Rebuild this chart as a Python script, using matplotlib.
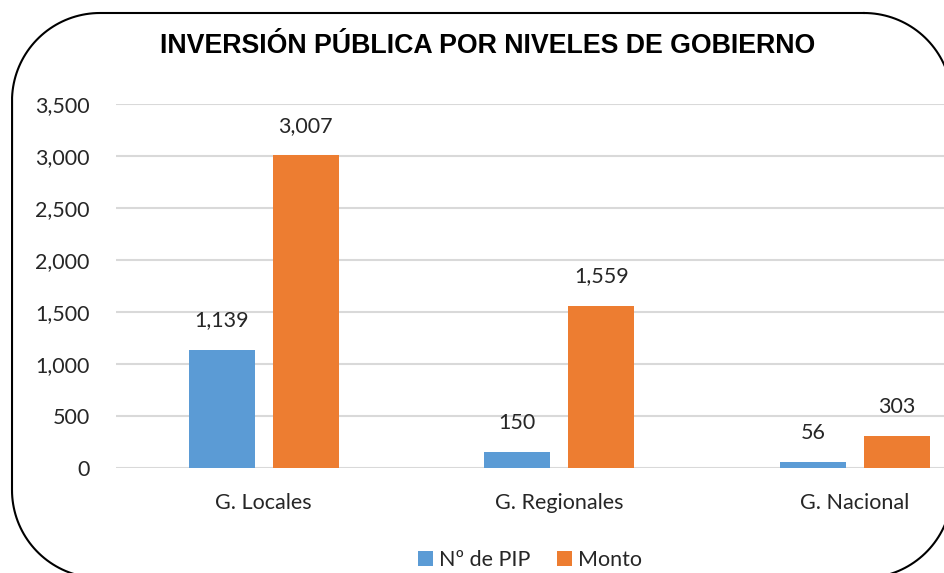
import numpy as np
import matplotlib.pyplot as plt

categories = ['G. Locales', 'G. Regionales', 'G. Nacional']
num_pip = [1139, 150, 56]
monto = [3007, 1559, 303]
series_names = ['Nº de PIP', 'Monto']
yticks = [0, 500, 1000, 1500, 2000, 2500, 3000, 3500]

blue = '#5B9BD5'
orange = '#ED7D31'
text_col = '#262626'

plt.rcParams['font.family'] = ['Lato', 'DejaVu Sans']

W, H = 945, 573
fig = plt.figure(figsize=(W / 100, H / 100), dpi=100)


def rounded_frame(x0, y0, x1, y1, r, n=40):
    # rounded rectangle made of circular arcs, pixel units (y down)
    pts = []
    corners = [(x1 - r, y0 + r, -90, 0), (x1 - r, y1 - r, 0, 90),
               (x0 + r, y1 - r, 90, 180), (x0 + r, y0 + r, 180, 270)]
    for cx, cy, a0, a1 in corners:
        t = np.radians(np.linspace(a0, a1, n))
        pts.append(np.column_stack([cx + r * np.cos(t), cy + r * np.sin(t)]))
    pts = np.vstack(pts + [pts[0][:1]])
    return pts


bg = fig.add_axes([0, 0, 1, 1])
bg.set_xlim(0, W)
bg.set_ylim(H, 0)
bg.axis('off')
fr = rounded_frame(12, 13, 952, 578, 88)
bg.plot(fr[:, 0], fr[:, 1], color='black', linewidth=1.5, clip_on=False)

# plot area extends past the right edge (the original is cropped)
ax = fig.add_axes([116 / W, 1 - 468 / H, 886.5 / W, 364 / H])
x = np.arange(len(categories))
bw = 0.223
off = 0.142
b1 = ax.bar(x - off, num_pip, bw, color=blue, label=series_names[0], zorder=3)
b2 = ax.bar(x + off, monto, bw, color=orange, label=series_names[1], zorder=3)

for bars, vals in ((b1, num_pip), (b2, monto)):
    for rect, v in zip(bars, vals):
        ax.annotate(f'{v:,}', (rect.get_x() + rect.get_width() / 2, v),
                    xytext=(0, 14), textcoords='offset points',
                    ha='center', va='bottom', fontsize=15.5, color=text_col)

ax.set_xlim(-0.5, 2.5)
ax.set_ylim(0, 3500)
ax.set_yticks(yticks)
ax.set_yticklabels([f'{t:,}' for t in yticks])
ax.set_xticks(x)
ax.set_xticklabels(categories)
ax.tick_params(axis='both', length=0, labelsize=15.5, colors=text_col)
ax.tick_params(axis='y', pad=19)
ax.tick_params(axis='x', pad=18)
ax.yaxis.grid(True, color='#d9d9d9', linewidth=1.5, zorder=0)
for s in ax.spines.values():
    s.set_visible(False)
ax.set_facecolor('none')

fig.text(488 / W, 1 - 46 / H, 'INVERSIÓN PÚBLICA POR NIVELES DE GOBIERNO',
         ha='center', va='center', fontsize=19.3, fontweight='bold',
         family='Liberation Sans', color='black')

fig.legend(handles=[b1, b2], loc='center', bbox_to_anchor=(530 / W, 1 - 560 / H),
           ncol=2, frameon=False, fontsize=15.5, handlelength=0.7, handleheight=0.7,
           handletextpad=0.3, columnspacing=1.2, labelcolor=text_col)

fig.savefig('out.png', dpi=100)
